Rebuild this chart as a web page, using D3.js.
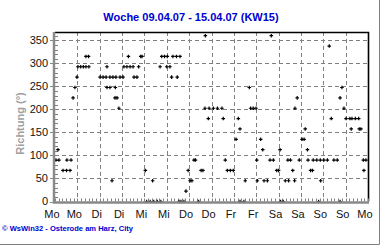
<!DOCTYPE html>
<html lang="de">
<head>
<meta charset="UTF-8">
<title>Woche 09.04.07 - 15.04.07 (KW15)</title>
<style>
  body { margin: 0; background: #fff; }
  svg { display: block; }
  text { font-family: "Liberation Sans", Arial, sans-serif; }
</style>
</head>
<body>
<script src="https://cdnjs.cloudflare.com/ajax/libs/d3/7.8.5/d3.min.js"></script>
<script>
// Stunden seit Mo 09.04.07 00:00
var hours = [
  0.5, 1.6, 2.1, 4.3, 6.2, 6.4, 8.1, 8.6, 9.7, 10.7, 11.8, 12.3, 13.8, 15.2, 16.6, 16.6, 18.0, 18.2,
  24.2, 25.8, 27.4, 27.9, 27.9, 29.5, 29.5, 30.6, 31.1, 32.2, 32.4, 32.7, 33.3, 34.3, 34.9, 36.5,
  37.0, 38.6, 39.4, 40.3, 41.9, 42.4, 44.0, 44.9, 46.0, 46.7, 48.5, 49.2, 51.1, 52.4, 53.0, 54.9,
  56.4, 56.8, 57.3, 58.8, 60.0, 60.3, 61.7, 62.6, 63.3, 65.2, 65.6, 66.6, 67.1, 67.6, 69.2, 70.3,
  71.5, 72.5, 73.5, 74.6, 75.4, 77.1, 78.4, 79.4, 80.5, 80.7, 82.3, 82.7, 85.0, 87.2, 89.6, 90.3,
  91.4, 92.5, 94.1, 95.7, 97.2, 98.4, 99.3, 99.3, 101.4, 102.1, 104.3, 105.0, 106.4, 107.9, 108.3,
  108.6, 110.4, 111.5, 112.2, 114.0, 115.4, 116.1, 117.2, 119.0, 120.0, 120.8, 121.1, 122.5, 123.6,
  125.0, 125.4, 126.4, 127.6, 128.6, 128.8, 130.0, 131.1, 132.6, 133.7, 134.3, 135.5, 135.8, 137.2,
  138.2, 138.6, 140.5, 141.5, 142.4, 142.6, 144.3, 146.2, 147.2, 148.3, 149.7, 151.5, 153.0, 153.0,
  154.0, 155.1, 156.2, 158.3, 159.0, 159.4, 161.2, 163.0, 163.3, 164.2, 165.5, 165.8, 166.9
];
// Windrichtung in Grad
var directions = [
  90, 112.5, 90, 67.5, 67.5, 90, 67.5, 90, 225, 247.5, 270, 292.5, 292.5, 292.5, 292.5, 315, 315, 292.5,
  270, 270, 270, 292.5, 247.5, 247.5, 270, 45, 270, 225, 247.5, 270, 225, 202.5, 270, 270,
  292.5, 292.5, 315, 292.5, 292.5, 270, 270, 292.5, 315, 315, 67.5, 0, 0, 45, 0, 0,
  292.5, 0, 315, 315, 292.5, 315, 292.5, 270, 315, 315, 270, 0, 315, 0, 0, 22.5,
  67.5, 45, 45, 90, 90, 0, 67.5, 67.5, 202.5, 360, 180, 202.5, 202.5, 202.5, 202.5, 180,
  90, 67.5, 67.5, 67.5, 135, 180, 157.5, 0, 0, 45, 247.5, 202.5, 202.5, 202.5, 90,
  45, 135, 112.5, 45, 45, 90, 360, 90, 67.5, 67.5, 112.5, 0, 0, 45,
  90, 45, 90, 67.5, 45, 202.5, 225, 90, 135, 135, 157.5, 112.5, 90, 67.5,
  67.5, 90, 90, 0, 90, 45, 90, 90, 337.5, 180, 90, 90, 225, 0,
  247.5, 202.5, 180, 180, 157.5, 180, 180, 180, 157.5, 157.5, 90, 67.5, 90
];
var dayLabels = ['Mo', 'Mo', 'Di', 'Di', 'Mi', 'Mi', 'Do', 'Do', 'Fr', 'Fr', 'Sa', 'Sa', 'So', 'So', 'Mo'];
var yTicks = [0, 50, 100, 150, 200, 250, 300, 350];

var W = 380, H = 245;
var pl = 55, pr = 368, pt = 32, pb = 201.5;

var svg = d3.select('body').append('svg')
  .attr('width', W)
  .attr('height', H);

var x = d3.scaleLinear().domain([0, 168]).range([pl, pr]);
var y = d3.scaleLinear().domain([0, 368]).range([pb, pt]);

var xMajor = d3.range(0, 169, 12);
var xMinor = d3.range(0, 169, 2);
var yMinor = d3.range(0, 361, 10);

// Gitter
svg.append('g').selectAll('line')
  .data(xMajor.slice(1, -1))
  .enter().append('line')
  .attr('x1', function (d) { return Math.round(x(d)) + 0.5; })
  .attr('x2', function (d) { return Math.round(x(d)) + 0.5; })
  .attr('y1', pt).attr('y2', pb)
  .attr('stroke', '#808080')
  .attr('stroke-dasharray', '4,3');

svg.append('g').selectAll('line')
  .data(yTicks.slice(1))
  .enter().append('line')
  .attr('x1', pl).attr('x2', pr)
  .attr('y1', function (d) { return Math.round(y(d)) + 0.5; })
  .attr('y2', function (d) { return Math.round(y(d)) + 0.5; })
  .attr('stroke', '#808080')
  .attr('stroke-dasharray', '4,3');

// Rahmen oben / rechts
svg.append('path')
  .attr('d', 'M' + pl + ',' + (pt + 0.5) + 'H' + (pr + 0.5) + 'V' + pb)
  .attr('fill', 'none')
  .attr('stroke', '#000')
  .attr('stroke-width', 1.6);

// kleine Ticks
svg.append('g').selectAll('line')
  .data(xMinor)
  .enter().append('line')
  .attr('x1', function (d) { return Math.round(x(d)) + 0.5; })
  .attr('x2', function (d) { return Math.round(x(d)) + 0.5; })
  .attr('y1', pb - 3).attr('y2', pb)
  .attr('stroke', '#808080');

svg.append('g').selectAll('line')
  .data(yMinor)
  .enter().append('line')
  .attr('y1', function (d) { return Math.round(y(d)) + 0.5; })
  .attr('y2', function (d) { return Math.round(y(d)) + 0.5; })
  .attr('x1', pl).attr('x2', pl + 3)
  .attr('stroke', '#808080');

// Punkte
var sym = d3.symbol().type(d3.symbolCross).size(7);
svg.append('g').selectAll('path')
  .data(hours)
  .enter().append('path')
  .attr('d', sym)
  .attr('transform', function (d, i) {
    return 'translate(' + x(d) + ',' + y(directions[i]) + ')';
  })
  .attr('fill', '#000');

// Achsen (grau, dick)
svg.append('path')
  .attr('d', 'M' + (pl - 1) + ',' + pt + 'V' + (pb + 1) + 'H' + (pr + 1))
  .attr('fill', 'none')
  .attr('stroke', '#8a8a8a')
  .attr('stroke-width', 2.5);

// große Ticks
svg.append('g').selectAll('line')
  .data(yTicks)
  .enter().append('line')
  .attr('y1', function (d) { return Math.round(y(d)) + 0.5; })
  .attr('y2', function (d) { return Math.round(y(d)) + 0.5; })
  .attr('x1', pl - 5).attr('x2', pl - 2)
  .attr('stroke', '#8a8a8a');

// Beschriftung
svg.append('g').selectAll('text')
  .data(yTicks)
  .enter().append('text')
  .attr('x', 48)
  .attr('y', function (d) { return y(d); })
  .attr('dy', '0.36em')
  .attr('text-anchor', 'end')
  .style('font-size', '11px')
  .attr('fill', '#111')
  .text(function (d) { return d; });

svg.append('g').selectAll('text')
  .data(dayLabels)
  .enter().append('text')
  .attr('x', function (d, i) { return x(xMajor[i]) - 3; })
  .attr('y', 218)
  .attr('text-anchor', 'middle')
  .style('font-size', '11px')
  .attr('fill', '#111')
  .text(function (d) { return d; });

svg.append('text')
  .attr('x', 191)
  .attr('y', 21)
  .attr('text-anchor', 'middle')
  .style('font-size', '11px')
  .style('font-weight', 'bold')
  .attr('fill', '#0000d0')
  .text('Woche 09.04.07 - 15.04.07 (KW15)');

svg.append('text')
  .attr('transform', 'translate(23.5,123.5) rotate(-90)')
  .attr('text-anchor', 'middle')
  .style('font-size', '11px')
  .style('font-weight', 'bold')
  .attr('fill', '#a0a0a0')
  .text('Richtung (°)');

svg.append('text')
  .attr('x', 2)
  .attr('y', 231)
  .attr('textLength', 131)
  .attr('lengthAdjust', 'spacingAndGlyphs')
  .style('font-size', '7px')
  .style('font-weight', 'bold')
  .attr('fill', '#0000d0')
  .text('© WsWin32 - Osterode am Harz, City');

// äußerer Rand
svg.append('path')
  .attr('d', 'M' + (W - 0.5) + ',0V' + (H - 0.5) + 'H0')
  .attr('fill', 'none')
  .attr('stroke', '#808080');
</script>
</body>
</html>
